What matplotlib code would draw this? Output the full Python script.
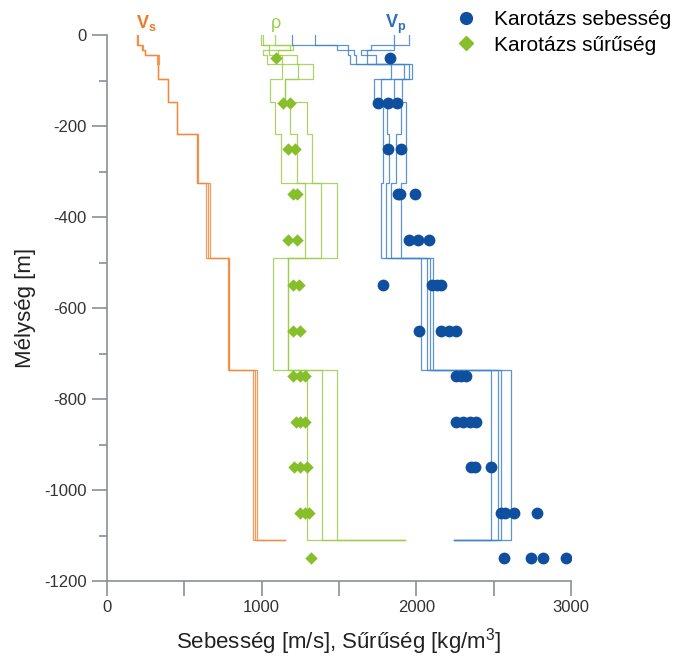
import matplotlib
matplotlib.use("Agg")
import matplotlib.pyplot as plt
from matplotlib.lines import Line2D
import numpy as np

plt.rcParams['font.family'] = ['Liberation Sans', 'DejaVu Sans']
plt.rcParams['axes.unicode_minus'] = False
plt.rcParams['mathtext.fontset'] = 'custom'
plt.rcParams['mathtext.rm'] = 'Liberation Sans'
plt.rcParams['mathtext.bf'] = 'Liberation Sans:bold'

# layer boundaries (depth, m)
bounds = [0, -23, -33, -44, -64, -97, -147, -218, -325, -490, -736, -1110]

# model profiles: 11 layer values + half-space value
vs_models = [
    [194, 226, 245, 323, 329, 394, 452, 581, 639, 781, 942, 1148],
    [200, 232, 245, 329, 329, 394, 452, 585, 652, 786, 955, 1148],
    [194, 226, 245, 336, 329, 394, 452, 587, 665, 790, 968, 1148],
]
rho_models = [
    [994, 1200, 1006, 1032, 1129, 1052, 1084, 1123, 1277, 1071, 1290, 1929],
    [1084, 1181, 1103, 1129, 1232, 1148, 1181, 1226, 1381, 1168, 1387, 1929],
    [1006, 1045, 1045, 1226, 1329, 1148, 1290, 1323, 1484, 1168, 1490, 1929],
]
vp_models = [
    [1194, 1484, 1555, 1568, 1839, 1729, 1787, 1787, 1774, 2032, 2484, 2245],
    [1342, 1555, 1600, 1607, 1923, 1774, 1813, 1826, 1806, 2071, 2529, 2245],
    [1858, 1710, 1645, 1684, 1955, 1858, 1903, 1871, 1839, 2090, 2548, 2245],
    [1955, 1858, 1684, 1742, 1974, 1910, 1936, 1936, 1903, 2110, 2613, 2245],
]

# well-log measurements
log_vel_depth = [-50, -150, -150, -150, -250, -250, -350, -350, -350,
                 -450, -450, -450, -550, -550, -550, -550,
                 -650, -650, -650, -650, -750, -750, -750,
                 -850, -850, -850, -850, -950, -950, -950,
                 -1050, -1050, -1050, -1050, -1150, -1150, -1150, -1150]
log_vel = [1832, 1755, 1819, 1877, 1819, 1903, 1880, 1897, 1994,
           1955, 2013, 2084, 1787, 2103, 2135, 2161,
           2019, 2161, 2213, 2258, 2258, 2290, 2323,
           2258, 2303, 2348, 2387, 2355, 2381, 2484,
           2548, 2574, 2632, 2781, 2568, 2742, 2819, 2968]
log_rho_depth = [-50, -150, -150, -250, -250, -350, -350, -450, -450,
                 -550, -550, -650, -650, -750, -750, -750,
                 -850, -850, -850, -950, -950, -950,
                 -1050, -1050, -1050, -1150]
log_rho = [1090, 1135, 1181, 1168, 1213, 1200, 1226, 1168, 1226,
           1200, 1239, 1200, 1245, 1200, 1245, 1277,
           1219, 1245, 1277, 1206, 1245, 1290,
           1245, 1277, 1303, 1316]

c_vs = '#f08a3c'
c_rho = '#9ccc4a'
c_vp = '#3f83c8'
c_dot = '#0f4f9f'
c_dia = '#86bf2a'


def step_xy(vals):
    xs = np.append(np.repeat(vals[:-1], 2), vals[-1])
    ys = np.append(bounds[0], np.repeat(bounds[1:], 2))
    return xs, ys


fig = plt.figure(figsize=(6.82, 6.57), dpi=100)
ax = fig.add_axes([107/682, 1-581/657, 464/682, 546/657])

for m in vs_models:
    x, y = step_xy(m)
    ax.plot(x, y, color=c_vs, lw=0.9, alpha=0.85)
for m in rho_models:
    x, y = step_xy(m)
    ax.plot(x, y, color=c_rho, lw=0.9, alpha=0.85)
for m in vp_models:
    x, y = step_xy(m)
    ax.plot(x, y, color=c_vp, lw=0.9, alpha=0.85)

ax.scatter(log_rho, log_rho_depth, marker='D', s=40, color=c_dia, zorder=3, linewidths=0)
ax.scatter(log_vel, log_vel_depth, marker='o', s=72, color=c_dot, zorder=3, linewidths=0)

ax.text(190, 15, r'$\mathbf{V_s}$', color='#ec7a2a', fontsize=13, clip_on=False)
ax.text(1060, 15, 'ρ', color=c_rho, fontsize=13, clip_on=False)
ax.text(1800, 15, r'$\mathbf{V_p}$', color='#2f6fb8', fontsize=13, clip_on=False)

ax.set_xlim(0, 3000)
ax.set_ylim(-1200, 0)
for s in ['top', 'right']:
    ax.spines[s].set_visible(False)
for s in ['left', 'bottom']:
    ax.spines[s].set_color('#8a8f98')
    ax.spines[s].set_linewidth(1.2)

ax.set_xticks(range(0, 3001, 500))
ax.set_xticklabels(['0', '', '1000', '', '2000', '', '3000'])
ax.set_yticks(range(-1200, 1, 200))
ax.set_yticks(range(-1100, 0, 200), minor=True)
ax.tick_params(axis='both', which='major', length=11, width=1.2, color='#8a8f98',
               labelsize=12, labelcolor='#333333')
ax.tick_params(axis='y', which='minor', length=6, width=1.2, color='#8a8f98')
ax.tick_params(axis='x', pad=3)

ax.set_ylabel('Mélység [m]', fontsize=16, color='#222222', labelpad=6)
ax.set_xlabel('Sebesség [m/s], Sűrűség [kg/m$^3$]', fontsize=16, color='#222222', labelpad=8)

handles = [Line2D([], [], ls='', marker='o', ms=8.5, color=c_dot),
           Line2D([], [], ls='', marker='D', ms=7, color=c_dia)]
fig.legend(handles, ['Karotázs sebesség', 'Karotázs sűrűség'], loc='upper left',
           bbox_to_anchor=(443/682, 1.0), frameon=False, fontsize=15,
           handletextpad=0.75, labelspacing=0.3, handlelength=1.2, borderaxespad=0.1)

fig.savefig('out.png', dpi=100)
